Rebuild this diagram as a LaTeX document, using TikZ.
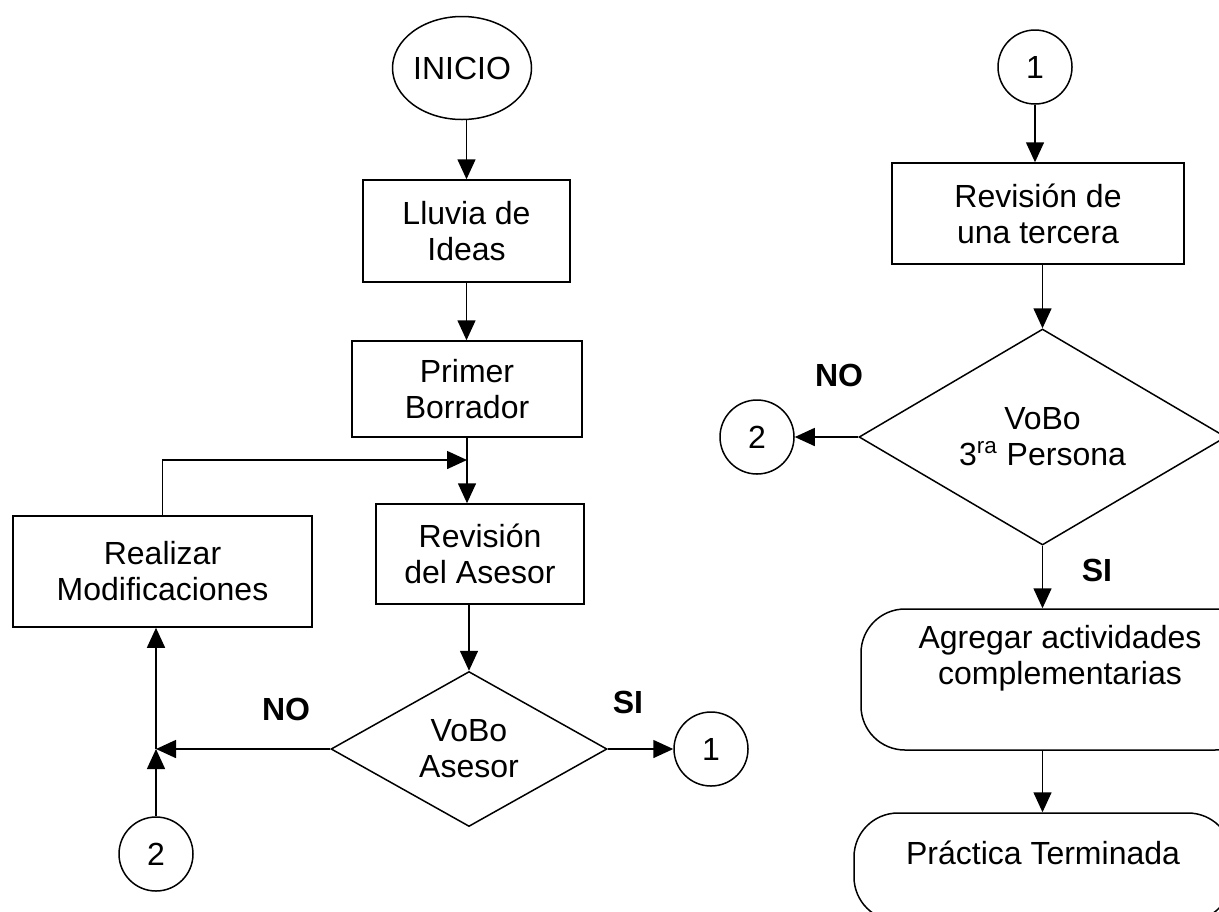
\documentclass[tikz,border=0pt]{standalone}
\usepackage{fontspec}
\setmainfont{Liberation Sans}
\usetikzlibrary{shapes.geometric,arrows.meta}
\begin{document}
\begin{tikzpicture}[x=0.5pt,y=-0.5pt,
  every node/.style={font=\fontsize{16}{18}\selectfont},
  base/.style={draw, line width=0.75pt, inner sep=0pt, align=center},
  procbox/.style={base, rectangle},
  termbox/.style={base, rectangle, rounded corners=22pt},
  conn/.style={base, circle, minimum size=37pt},
  decis/.style={base, diamond},
  lbl/.style={font=\fontsize{16}{18}\selectfont\bfseries},
  txt/.style={align=center, inner sep=0pt},
  arr/.style={line width=0.75pt, -{Triangle[length=10pt,width=9pt]}},
  ln/.style={line width=0.75pt}
]
\useasboundingbox (0,0) rectangle (1219,911);
\clip (0,0) rectangle (1219,911);

% left column
\node[base, ellipse, minimum width=69.5pt, minimum height=51.5pt] (inicio) at (462,68) {INICIO};
\node[procbox, minimum width=103.5pt, minimum height=51pt] (lluvia) at (466.5,231) {Lluvia de\\Ideas};
\node[procbox, minimum width=115pt, minimum height=48pt] (primer) at (467,389) {Primer\\Borrador};
\node[procbox, minimum width=104pt, minimum height=50pt] (revA) at (480,554) {Revisión\\del Asesor};
\node[procbox, minimum width=149.5pt, minimum height=55.5pt] (realizar) at (162.5,571.5) {Realizar\\Modificaciones};
\node[decis, aspect=1.78, minimum width=138pt, minimum height=77.5pt] (d1) at (469,749) {VoBo\\Asesor};
\node[conn] (c1a) at (711,749) {1};
\node[conn] (c2a) at (156,854) {2};
\node[lbl] (no1) at (286,709) {NO};
\node[lbl] (si1) at (628,702) {SI};

% right column
\node[conn] (c1b) at (1035,67) {1};
\node[procbox, minimum width=146pt, minimum height=50.5pt] (revB) at (1038,213.5) {Revisión de\\una tercera};
\node[decis, aspect=1.7, minimum width=183.5pt, minimum height=108pt] (d2) at (1042.5,437) {VoBo\\3\textsuperscript{ra} Persona};
\node[conn] (c2b) at (757,437) {2};
\node[lbl] (no2) at (839,375) {NO};
\node[lbl] (si2) at (1097,570) {SI};
\node[termbox, minimum width=199pt, minimum height=70.5pt] (agregar) at (1060,679.5) {};
\node[txt] (agregartxt) at (1060,658.5) {Agregar actividades\\complementarias};
\node[termbox, minimum width=189pt, minimum height=54pt] (practica) at (1043,867) {};
\node[txt] (practicatxt) at (1043,853) {Práctica Terminada};

% junctions
\coordinate (j1) at (156,749);
\coordinate (j2) at (primer.south |- 0,460);

% connectors left
\draw[arr] (lluvia.north |- inicio.south) -- (lluvia.north);
\draw[arr] (lluvia.south) -- (lluvia.south |- primer.north);
\draw[arr] (primer.south) -- (primer.south |- revA.north);
\draw[arr] (realizar.north) |- (j2);
\draw[arr] (d1.north |- revA.south) -- (d1.north);
\draw[arr] (d1.west) -- (j1);
\draw[arr] (c2a.north) -- (j1);
\draw[arr] (j1) -- (j1 |- realizar.south);
\draw[arr] (d1.east) -- (c1a.west);

% connectors right
\draw[arr] (c1b.south) -- (c1b.south |- revB.north);
\draw[arr] (d2.north |- revB.south) -- (d2.north);
\draw[arr] (d2.west) -- (c2b.east);
\draw[arr] (d2.south) -- (d2.south |- agregar.north);
\draw[arr] (d2.south |- agregar.south) -- (d2.south |- practica.north);
\end{tikzpicture}
\end{document}
